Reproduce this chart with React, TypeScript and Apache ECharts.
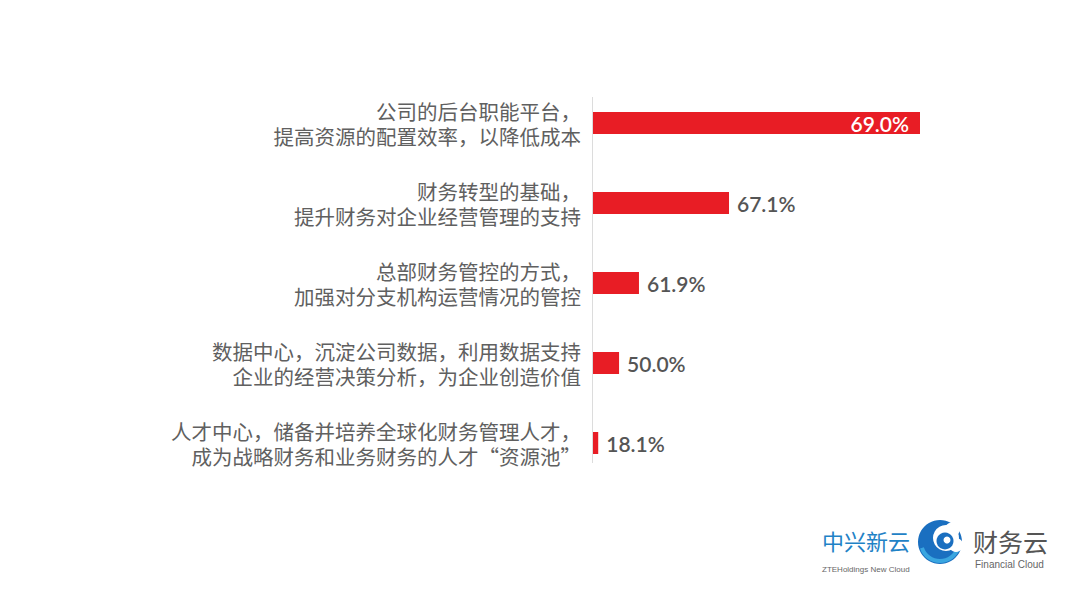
import React, { useEffect, useRef } from "react";
import * as echarts from "echarts";

// Categories (top to bottom)
const categories: string[] = [
  "公司的后台职能平台，\n提高资源的配置效率，以降低成本",
  "财务转型的基础，\n提升财务对企业经营管理的支持",
  "总部财务管控的方式，\n加强对分支机构运营情况的管控",
  "数据中心，沉淀公司数据，利用数据支持\n企业的经营决策分析，为企业创造价值",
  "人才中心，储备并培养全球化财务管理人才，\n成为战略财务和业务财务的人才“资源池”",
];

// Percentages shown on the labels
const percentValues: number[] = [69.0, 67.1, 61.9, 50.0, 18.1];

// Bar lengths as drawn in the picture (the original graphic is not proportional),
// expressed in the same units as the first bar (69.0)
const barLengths: number[] = [69.0, 28.7, 9.7, 5.5, 1.1];

const RED = "#e81d25";
const TEXT = "#606060";

export default function App() {
  const ref = useRef<HTMLDivElement>(null);

  useEffect(() => {
    if (!ref.current) return;
    const chart = echarts.init(ref.current, null, { renderer: "svg" });

    const data = barLengths.map((v, i) => ({
      value: v,
      label:
        i === 0
          ? { position: "insideRight", color: "#ffffff", distance: 11 }
          : { position: "right", color: "#555555", distance: 8 },
    }));

    chart.setOption({
      animation: false,
      backgroundColor: "#ffffff",
      grid: { left: 585, top: 75, width: 327, height: 400, containLabel: false },
      xAxis: {
        type: "value",
        min: 0,
        max: 69,
        show: false,
      },
      yAxis: {
        type: "category",
        inverse: true,
        data: categories,
        axisLine: { show: false },
        axisTick: { show: false },
        splitLine: { show: false },
        axisLabel: {
          color: TEXT,
          fontSize: 20.5,
          lineHeight: 25,
          margin: 12,
          align: "right",
          fontFamily: "Noto Sans CJK SC",
        },
      },
      series: [
        {
          type: "bar",
          data,
          barWidth: 22,
          itemStyle: { color: RED },
          label: {
            show: true,
            fontSize: 21,
            fontFamily: "Lato",
            fontWeight: 600,
            formatter: (p: any) => percentValues[p.dataIndex].toFixed(1) + "%",
          },
        },
      ],
      graphic: [
        {
          type: "line",
          shape: { x1: 584.5, y1: 89, x2: 584.5, y2: 455 },
          style: { stroke: "#dcdcdc", lineWidth: 1 },
        },
        {
          type: "text",
          left: 814,
          top: 521,
          style: {
            text: "中兴新云",
            fontSize: 22,
            fill: "#1f82c6",
            fontFamily: "Noto Sans CJK SC",
          },
        },
        {
          type: "text",
          left: 814,
          top: 557,
          style: {
            text: "ZTEHoldings New Cloud",
            fontSize: 8,
            fill: "#666666",
            fontFamily: "Liberation Sans",
          },
        },
        {
          type: "group",
          x: 932,
          y: 534,
          children: [
            { type: "circle", shape: { cx: 0, cy: 0, r: 22 }, style: { fill: "#1a6fc0" } },
            {
              type: "arc",
              shape: { cx: 0, cy: 0, r: 19, startAngle: Math.PI * 0.1, endAngle: Math.PI * 0.9 },
              style: { stroke: "#3aa6e0", lineWidth: 4, fill: "none" },
            },
            { type: "circle", shape: { cx: 6, cy: -4, r: 13 }, style: { fill: "#ffffff" } },
            { type: "circle", shape: { cx: 12, cy: -12, r: 7.5 }, style: { fill: "#ffffff" } },
            { type: "circle", shape: { cx: 16, cy: 3, r: 7 }, style: { fill: "#ffffff" } },
            { type: "circle", shape: { cx: 5, cy: -1, r: 8.5 }, style: { fill: "#1a6fc0" } },
            { type: "circle", shape: { cx: 7, cy: -2, r: 3.5 }, style: { fill: "#ffffff" } },
          ],
        },
        {
          type: "text",
          left: 965,
          top: 520,
          style: {
            text: "财务云",
            fontSize: 25,
            fill: "#555555",
            fontFamily: "Noto Sans CJK SC",
          },
        },
        {
          type: "text",
          left: 967,
          top: 551,
          style: {
            text: "Financial Cloud",
            fontSize: 10,
            fill: "#666666",
            fontFamily: "Liberation Sans",
          },
        },
      ],
    });

    return () => chart.dispose();
  }, []);

  return <div ref={ref} style={{ width: 1064, height: 591 }} />;
}
